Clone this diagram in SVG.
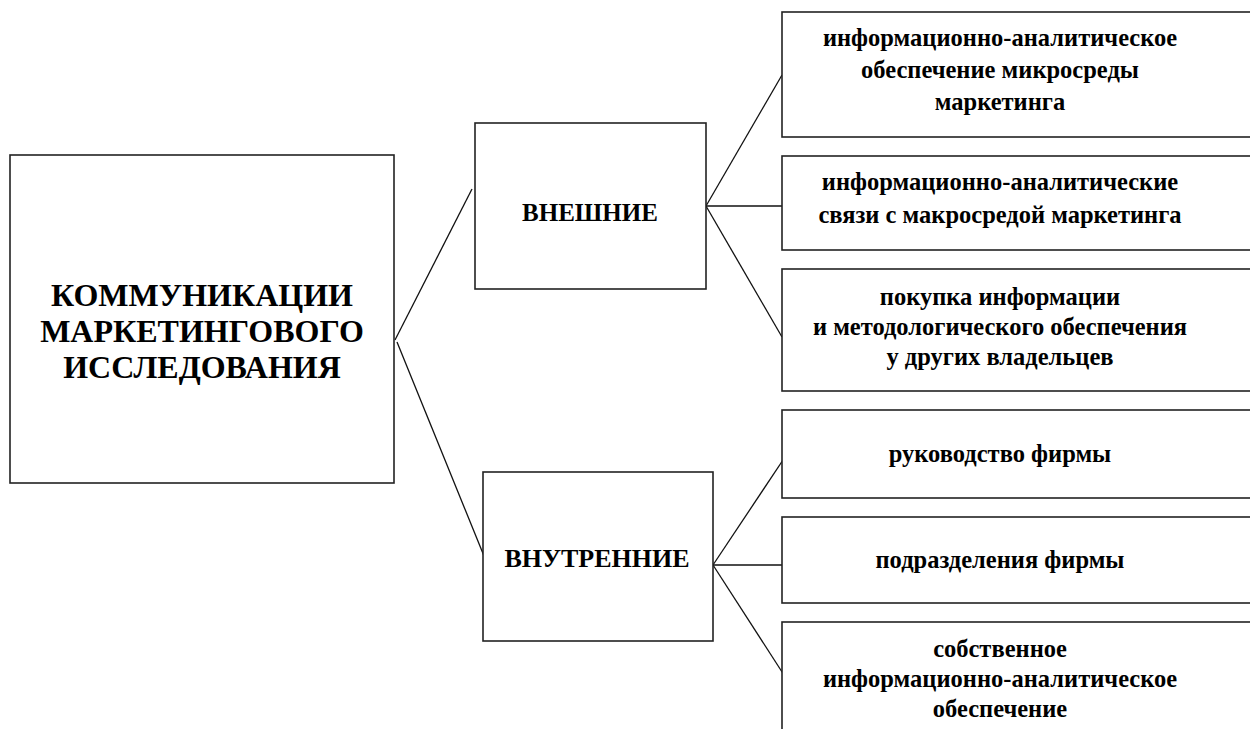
<svg xmlns="http://www.w3.org/2000/svg" width="1250" height="729" viewBox="0 0 1250 729">
<style>
.box{fill:#fff;stroke:#222;stroke-width:1.6}
.ln{stroke:#111;stroke-width:1.3;fill:none}
text{font-family:"Liberation Serif","Times New Roman",serif;font-weight:bold;fill:#000;text-anchor:middle}
.t{font-size:32px}
.m{font-size:25px}
.m2{font-size:26px}
.s{font-size:24.5px}
</style>
<rect width="1250" height="729" fill="#fff"/>
<g id="connectors">
<line class="ln" x1="395" y1="340" x2="472" y2="189"/>
<line class="ln" x1="397" y1="342" x2="484" y2="556"/>
<line class="ln" x1="706" y1="206" x2="782" y2="75"/>
<line class="ln" x1="706" y1="206" x2="786" y2="206"/>
<line class="ln" x1="706" y1="206" x2="782" y2="337"/>
<line class="ln" x1="713" y1="565" x2="785" y2="457"/>
<line class="ln" x1="713" y1="565" x2="794" y2="565"/>
<line class="ln" x1="713" y1="565" x2="784" y2="675"/>
</g>
<g id="main">
<rect class="box" x="10" y="155" width="384" height="328"/>
<text class="t" x="202" y="306">КОММУНИКАЦИИ</text>
<text class="t" x="202" y="342">МАРКЕТИНГОВОГО</text>
<text class="t" x="202" y="378">ИССЛЕДОВАНИЯ</text>
</g>
<g id="external">
<rect class="box" x="475" y="123" width="231" height="166"/>
<text class="m" x="590" y="221">ВНЕШНИЕ</text>
</g>
<g id="internal">
<rect class="box" x="483" y="472" width="230" height="169"/>
<text class="m2" x="597" y="567">ВНУТРЕННИЕ</text>
</g>
<g id="ext1">
<rect class="box" x="782" y="12" width="480" height="125"/>
<text class="s" x="1000" y="46">информационно-аналитическое</text>
<text class="s" x="1000" y="78">обеспечение микросреды</text>
<text class="s" x="1000" y="110">маркетинга</text>
</g>
<g id="ext2">
<rect class="box" x="782" y="156" width="480" height="94"/>
<text class="s" x="1000" y="190">информационно-аналитические</text>
<text class="s" x="1000" y="223">связи с макросредой маркетинга</text>
</g>
<g id="ext3">
<rect class="box" x="782" y="269" width="480" height="122"/>
<text class="s" x="1000" y="305">покупка информации</text>
<text class="s" x="1000" y="335">и методологического обеспечения</text>
<text class="s" x="1000" y="365">у других владельцев</text>
</g>
<g id="int1">
<rect class="box" x="782" y="410" width="480" height="88"/>
<text class="s" x="1000" y="462">руководство фирмы</text>
</g>
<g id="int2">
<rect class="box" x="782" y="517" width="480" height="86"/>
<text class="s" x="1000" y="568">подразделения фирмы</text>
</g>
<g id="int3">
<rect class="box" x="782" y="622" width="480" height="130"/>
<text class="s" x="1000" y="657">собственное</text>
<text class="s" x="1000" y="687">информационно-аналитическое</text>
<text class="s" x="1000" y="717">обеспечение</text>
</g>
</svg>
